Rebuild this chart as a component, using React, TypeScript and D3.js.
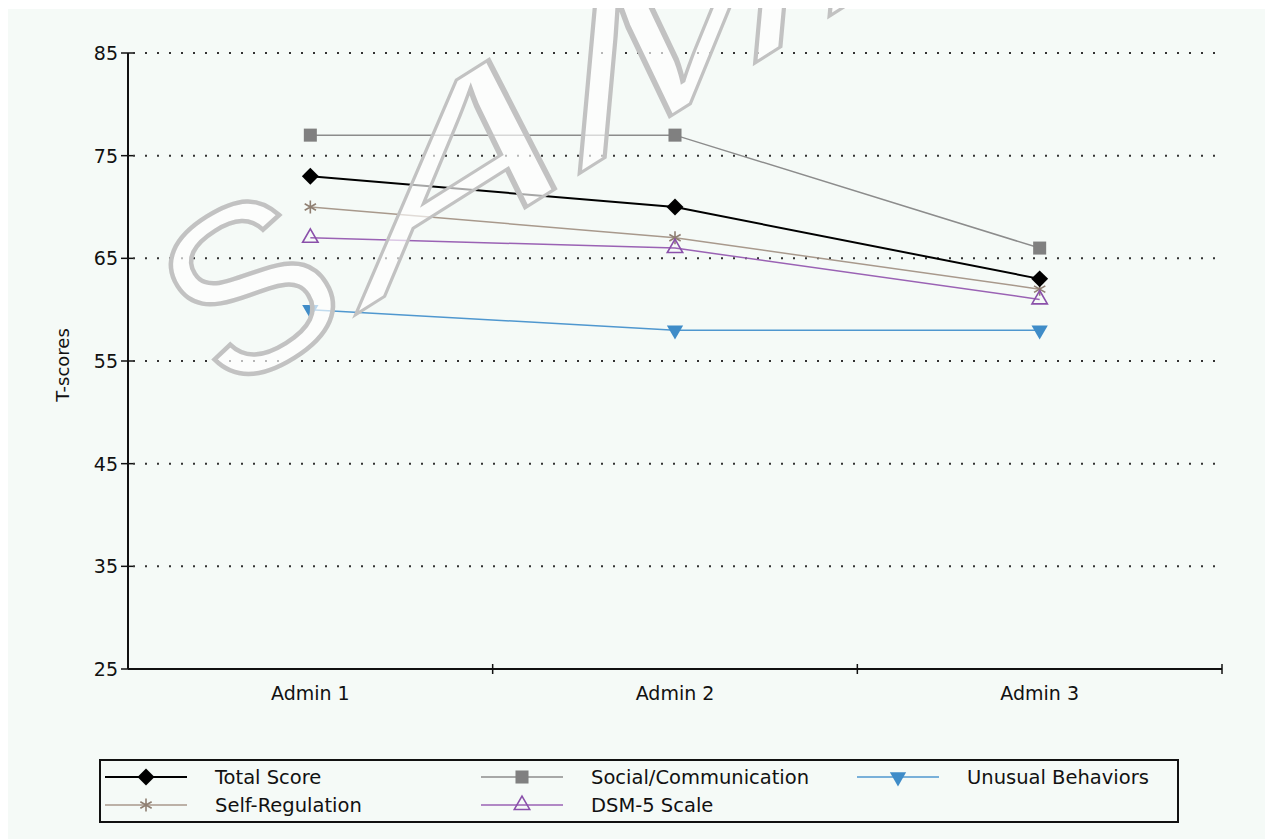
import React, { useEffect, useRef } from 'react';
import * as d3 from 'd3';

const admins = ['Admin 1', 'Admin 2', 'Admin 3'];
const yTicks = [25, 35, 45, 55, 65, 75, 85];

const totalScore = [73, 70, 63];
const socialCommunication = [77, 77, 66];
const selfRegulation = [70, 67, 62];
const dsm5Scale = [67, 66, 61];
const unusualBehaviors = [60, 58, 58];

const seriesNames = ['Total Score', 'Social/Communication', 'Unusual Behaviors', 'Self-Regulation', 'DSM-5 Scale'];

const FONT = '"DejaVu Sans", sans-serif';
const MARK_FONT = '"Liberation Sans", Arial, sans-serif';

const App = () => {
  const ref = useRef<SVGSVGElement>(null);

  useEffect(() => {
    document.body.style.overflow = 'hidden';
    const svg = d3.select(ref.current);
    svg.selectAll('*').remove();

    // everything is laid out in page coordinates, shifted by the 8px body margin
    const g = svg.append('g').attr('transform', 'translate(-8,-8)');

    g.append('rect')
      .attr('x', 8).attr('y', 9)
      .attr('width', 1265).attr('height', 830)
      .attr('fill', '#f5faf7');

    const x = d3.scaleBand().domain(admins).range([128, 1222]).padding(0);
    const y = d3.scaleLinear().domain([25, 85]).range([669, 53]);

    // dotted grid
    g.selectAll('.grid')
      .data(yTicks.filter(t => t !== 25))
      .enter()
      .append('line')
      .attr('x1', 133).attr('x2', 1222)
      .attr('y1', d => y(d)).attr('y2', d => y(d))
      .attr('stroke', '#333')
      .attr('stroke-width', 2)
      .attr('stroke-dasharray', '2,10');

    // y axis
    g.append('line')
      .attr('x1', 128).attr('x2', 128)
      .attr('y1', y(85)).attr('y2', y(25))
      .attr('stroke', '#111').attr('stroke-width', 2);
    g.selectAll('.ytick')
      .data(yTicks)
      .enter()
      .append('line')
      .attr('x1', 121).attr('x2', 133)
      .attr('y1', d => y(d)).attr('y2', d => y(d))
      .attr('stroke', '#111').attr('stroke-width', 1.5);
    g.selectAll('.ylabel')
      .data(yTicks)
      .enter()
      .append('text')
      .attr('x', 118).attr('y', d => y(d) + 7)
      .attr('text-anchor', 'end')
      .attr('font-family', FONT).attr('font-size', 19)
      .attr('fill', '#111')
      .text(d => d);

    g.append('text')
      .attr('transform', 'translate(69,365) rotate(-90)')
      .attr('text-anchor', 'middle')
      .attr('font-family', FONT).attr('font-size', 18)
      .attr('fill', '#111')
      .text('T-scores');

    // x axis
    g.append('line')
      .attr('x1', 128).attr('x2', 1222)
      .attr('y1', y(25)).attr('y2', y(25))
      .attr('stroke', '#111').attr('stroke-width', 2);
    g.selectAll('.xtick')
      .data(admins)
      .enter()
      .append('line')
      .attr('x1', d => (x(d) as number) + x.bandwidth())
      .attr('x2', d => (x(d) as number) + x.bandwidth())
      .attr('y1', y(25) - 5).attr('y2', y(25) + 5)
      .attr('stroke', '#111').attr('stroke-width', 1.5);
    g.selectAll('.xlabel')
      .data(admins)
      .enter()
      .append('text')
      .attr('x', d => (x(d) as number) + x.bandwidth() / 2)
      .attr('y', 700)
      .attr('text-anchor', 'middle')
      .attr('font-family', FONT).attr('font-size', 19)
      .attr('fill', '#111')
      .text(d => d);

    const cx = (i: number) => (x(admins[i]) as number) + x.bandwidth() / 2;

    const series = [
      { name: 'Social/Communication', values: socialCommunication, color: '#8c8c8c', width: 1.5, symbol: d3.symbolSquare, size: 170, fill: '#808080', stroke: 'none', rot: 0 },
      { name: 'Self-Regulation', values: selfRegulation, color: '#a8998c', width: 1.5, symbol: d3.symbolAsterisk, size: 120, fill: 'none', stroke: '#8f7f72', rot: 0 },
      { name: 'DSM-5 Scale', values: dsm5Scale, color: '#9a62b4', width: 1.5, symbol: d3.symbolTriangle2, size: 170, fill: 'none', stroke: '#8a50aa', rot: 0 },
      { name: 'Unusual Behaviors', values: unusualBehaviors, color: '#4f97cf', width: 1.5, symbol: d3.symbolTriangle, size: 115, fill: '#3f8cc8', stroke: 'none', rot: 180 },
      { name: 'Total Score', values: totalScore, color: '#000000', width: 2, symbol: d3.symbolSquare, size: 144, fill: '#000', stroke: 'none', rot: 45 },
    ];

    const line = d3.line<number>().x((_, i) => cx(i)).y(d => y(d));

    const drawMarker = (sel: any, s: any, px: number, py: number) => {
      sel.append('path')
        .attr('d', d3.symbol().type(s.symbol).size(s.size)())
        .attr('transform', `translate(${px},${py}) rotate(${s.rot})`)
        .attr('fill', s.fill)
        .attr('stroke', s.stroke)
        .attr('stroke-width', s.stroke === 'none' ? 0 : 1.6);
    };

    series.forEach(s => {
      g.append('path')
        .attr('d', line(s.values))
        .attr('fill', 'none')
        .attr('stroke', s.color)
        .attr('stroke-width', s.width);
      s.values.forEach((v, i) => drawMarker(g, s, cx(i), y(v)));
    });

    // watermark: the S is turned, the rest is slanted and runs off the top edge
    const mark = g.append('g')
      .attr('font-family', MARK_FONT)
      .attr('fill', '#ffffff')
      .attr('fill-opacity', 0.65)
      .attr('stroke', '#c2c2c2')
      .attr('stroke-width', 4.5);
    mark.append('text')
      .attr('transform', 'translate(226,398) rotate(-32)')
      .attr('font-size', 235)
      .text('S');
    mark.append('text')
      .attr('transform', 'matrix(1.0,-0.63,-0.08,0.88,355,315)')
      .attr('font-size', 300)
      .text('AMPLE');

    // legend
    g.append('rect')
      .attr('x', 100).attr('y', 760)
      .attr('width', 1078).attr('height', 62)
      .attr('fill', 'none')
      .attr('stroke', '#111').attr('stroke-width', 2);

    const byName = new Map(series.map(s => [s.name, s]));
    seriesNames.forEach((name, i) => {
      const s = byName.get(name)!;
      const col = i % 3;
      const row = Math.floor(i / 3);
      const lx = 105 + col * 376;
      const ly = 777 + row * 28;
      g.append('line')
        .attr('x1', lx).attr('x2', lx + 82)
        .attr('y1', ly).attr('y2', ly)
        .attr('stroke', s.color).attr('stroke-width', s.width);
      drawMarker(g, s, lx + 41, ly);
      g.append('text')
        .attr('x', lx + 110).attr('y', ly + 7)
        .attr('font-family', FONT).attr('font-size', 19.5)
        .attr('fill', '#111')
        .text(name);
    });
  }, []);

  return <svg ref={ref} width={1265} height={831} style={{ display: 'block' }} />;
};

export default App;
